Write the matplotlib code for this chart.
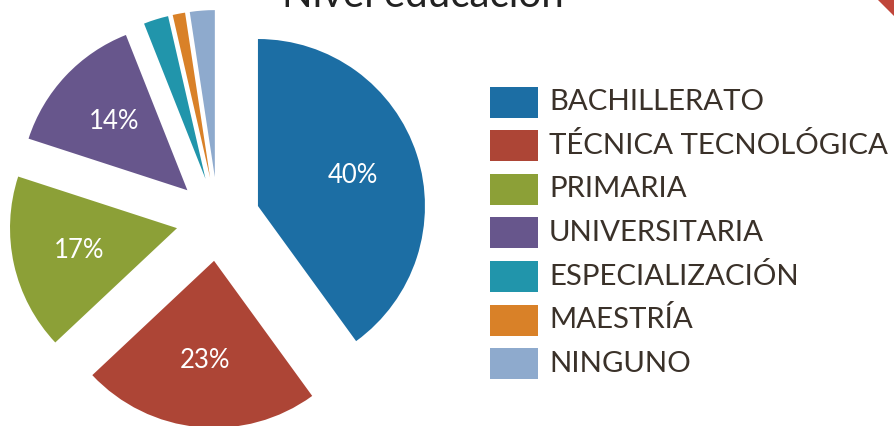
import matplotlib.pyplot as plt
from matplotlib.patches import Rectangle, Polygon

# Data
categorias = ['BACHILLERATO', 'TÉCNICA TECNOLÓGICA', 'PRIMARIA', 'UNIVERSITARIA',
              'ESPECIALIZACIÓN', 'MAESTRÍA', 'NINGUNO']
porcentajes = [40, 23, 17, 14, 2.4, 1.2, 2.4]
colores = ['#1c6ea4', '#ad4536', '#8ca037', '#67568c', '#2195ab', '#d98128', '#8eaacd']
titulo = 'Nivel educación'

plt.rcParams['font.family'] = ['Lato', 'DejaVu Sans']

fig = plt.figure(figsize=(8.95, 4.26), dpi=100)
ax = fig.add_axes([0, 0, 1, 1])

# pixel-like coordinates, y up
W, H = 895, 426
R = 167
wedges, texts, autotexts = ax.pie(
    porcentajes, colors=colores, startangle=90, counterclock=False,
    center=(218, H - 219), radius=R, explode=[42] * len(porcentajes),
    autopct=lambda p: f'{p:.0f}%' if p > 5 else '', pctdistance=0.6,
    textprops=dict(color='white', fontsize=18.5),
    wedgeprops=dict(linewidth=0))

ax.set_xlim(0, W)
ax.set_ylim(0, H)
ax.axis('off')

# title, cut at the top edge
ax.text(423, H - 7, titulo, ha='center', va='baseline', fontsize=29, color='#222222')

# red corner decoration
ax.add_patch(Polygon([(878, H), (W, H), (W, H - 17)], closed=True,
                     facecolor='#c0463a', edgecolor='none'))

# legend
y0, paso = H - 102, 43.6
for i, (cat, col) in enumerate(zip(categorias, colores)):
    y = y0 - i * paso
    ax.add_patch(Rectangle((490, y - 15.5), 48, 31, facecolor=col, edgecolor='none'))
    ax.text(549, y, cat, ha='left', va='center', fontsize=21.2, color='#3a3129')

fig.savefig('out.png', dpi=100)
